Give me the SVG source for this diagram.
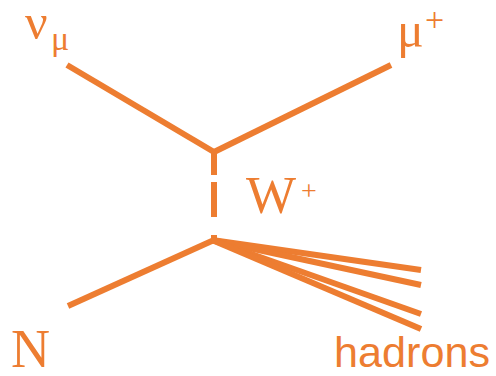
<svg xmlns="http://www.w3.org/2000/svg" width="496" height="376" viewBox="0 0 496 376">
<style>
.l{stroke:#ED7D31;stroke-width:6;fill:none}
.s{font-family:"Liberation Serif",serif;fill:#ED7D31}
.a{font-family:"Liberation Sans",sans-serif;fill:#ED7D31}
</style>
<rect width="496" height="376" fill="#fff"/>
<g id="connectors">
<line class="l" x1="67" y1="65" x2="214" y2="152"/>
<line class="l" x1="214" y1="152" x2="391" y2="65"/>
<path class="l" d="M214 150V175M214 182V217M214 235V242"/>
<line class="l" x1="68" y1="306" x2="214" y2="240"/>
<line class="l" x1="212" y1="240" x2="421" y2="270"/>
<line class="l" x1="212" y1="240" x2="421" y2="285"/>
<line class="l" x1="212" y1="240" x2="421" y2="314"/>
<line class="l" x1="212" y1="240" x2="421" y2="329"/>
</g>
<g id="nu"><text class="s" x="25" y="39" font-size="50">ν</text><text class="s" x="51" y="50" font-size="34">μ</text></g>
<g id="muplus"><text class="s" x="397" y="47" font-size="50">μ</text><text class="s" x="425" y="31" font-size="34">+</text></g>
<g id="W"><text class="s" x="246" y="213" font-size="53">W</text><text class="s" x="301" y="200" font-size="28">+</text></g>
<g id="N"><text class="s" x="11" y="367" font-size="54">N</text></g>
<g id="hadrons"><text class="a" x="334" y="367" font-size="42" textLength="156" lengthAdjust="spacingAndGlyphs">hadrons</text></g>
</svg>
